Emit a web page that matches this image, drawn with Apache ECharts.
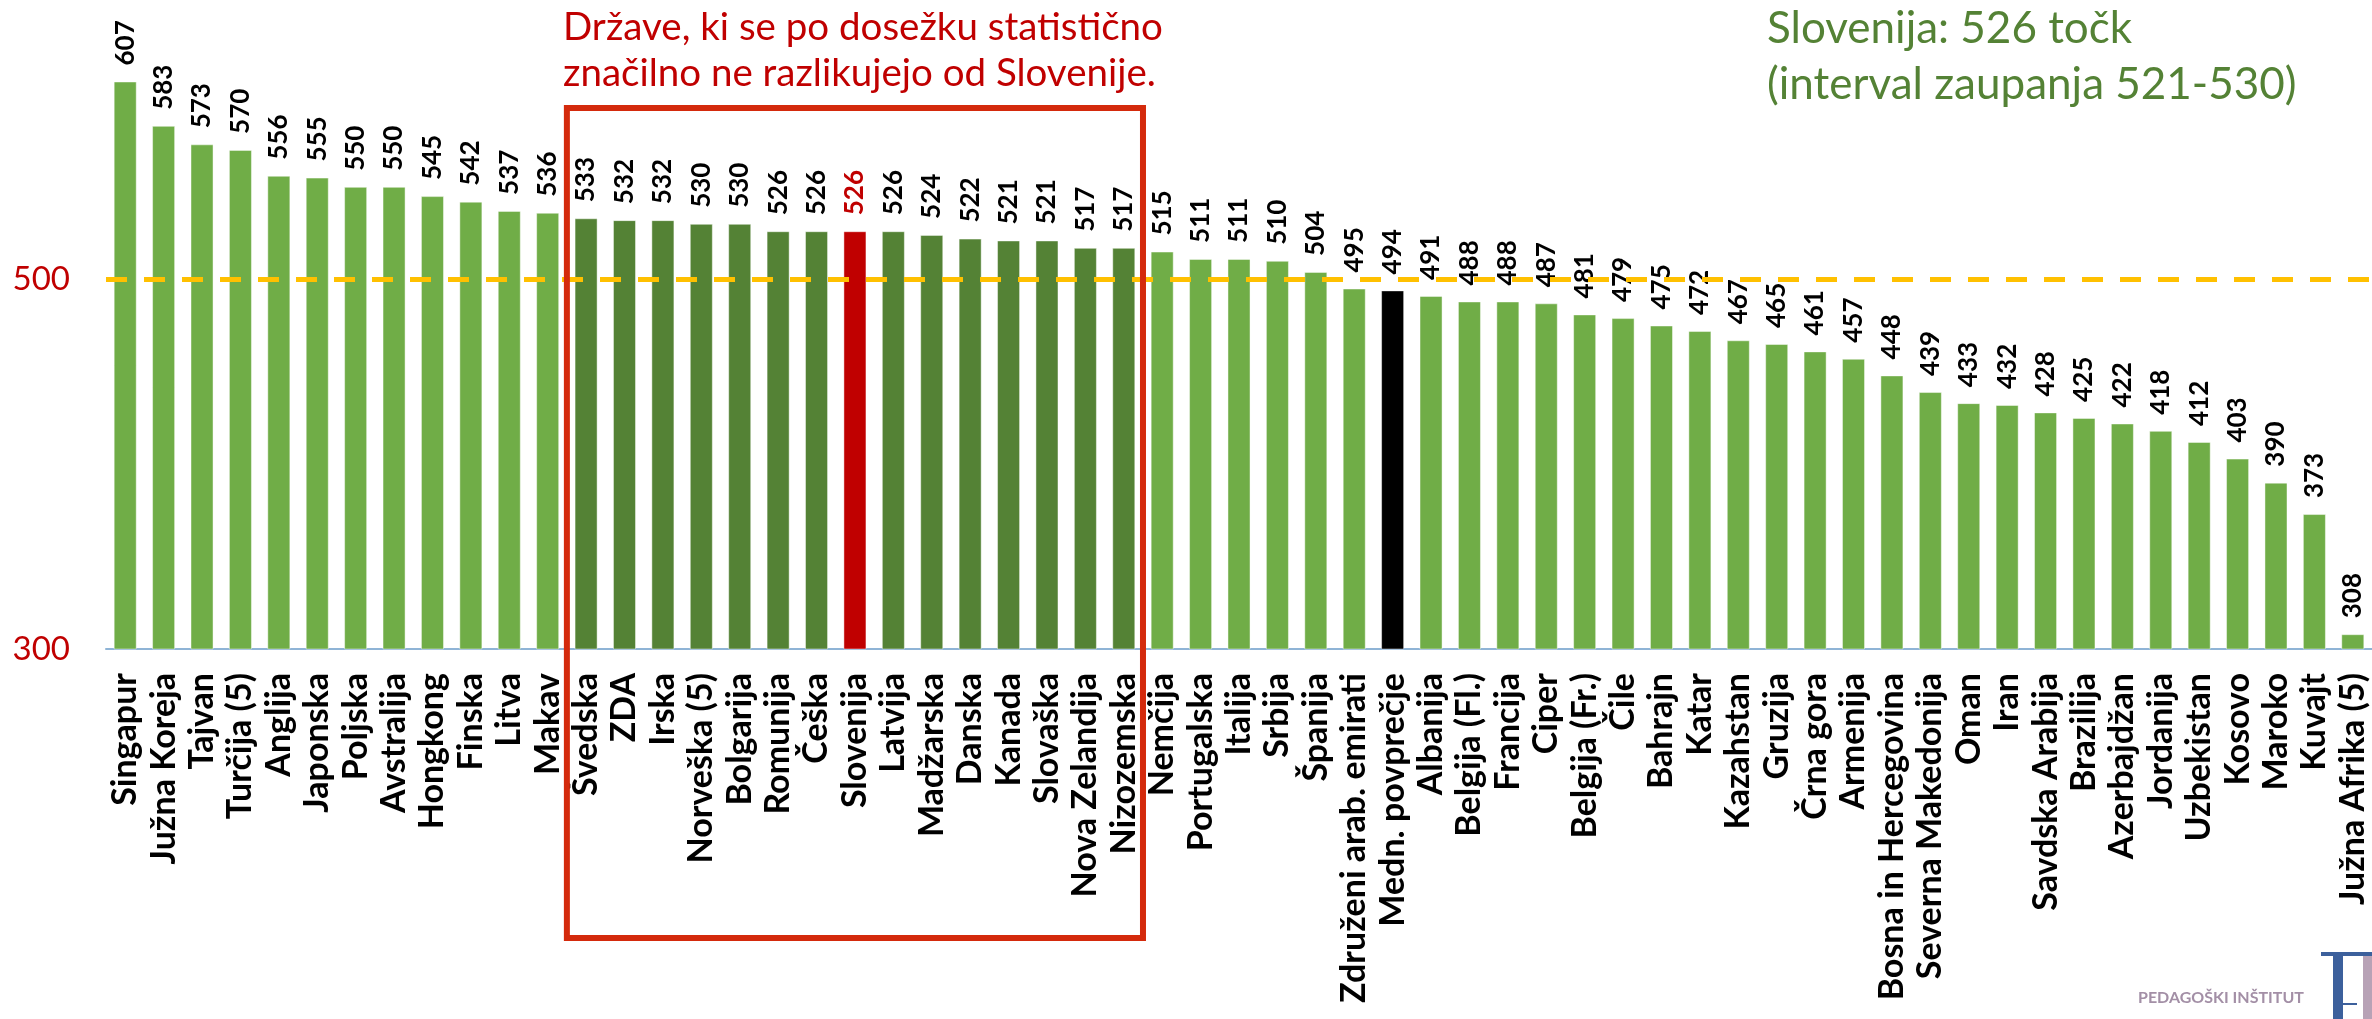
<!DOCTYPE html>
<html>
<head>
<meta charset="utf-8">
<script src="https://cdn.jsdelivr.net/npm/echarts@6/dist/echarts.min.js"></script>
<style>
  html, body { margin: 0; padding: 0; background: #fff; }
  #chart { width: 2372px; height: 1019px; }
</style>
</head>
<body>
<div id="chart"></div>
<script>
// Dosežki držav (točke) - padajoče
const categories = [
  'Singapur', 'Južna Koreja', 'Tajvan', 'Turčija (5)', 'Anglija', 'Japonska', 'Poljska',
  'Avstralija', 'Hongkong', 'Finska', 'Litva', 'Makav', 'Švedska', 'ZDA', 'Irska',
  'Norveška (5)', 'Bolgarija', 'Romunija', 'Češka', 'Slovenija', 'Latvija', 'Madžarska',
  'Danska', 'Kanada', 'Slovaška', 'Nova Zelandija', 'Nizozemska', 'Nemčija', 'Portugalska',
  'Italija', 'Srbija', 'Španija', 'Združeni arab. emirati', 'Medn. povprečje', 'Albanija',
  'Belgija (Fl.)', 'Francija', 'Ciper', 'Belgija (Fr.)', 'Čile', 'Bahrajn', 'Katar',
  'Kazahstan', 'Gruzija', 'Črna gora', 'Armenija', 'Bosna in Hercegovina',
  'Severna Makedonija', 'Oman', 'Iran', 'Savdska Arabija', 'Brazilija', 'Azerbajdžan',
  'Jordanija', 'Uzbekistan', 'Kosovo', 'Maroko', 'Kuvajt', 'Južna Afrika (5)'
];
const scores = [
  607, 583, 573, 570, 556, 555, 550, 550, 545, 542, 537, 536, 533, 532, 532,
  530, 530, 526, 526, 526, 526, 524, 522, 521, 521, 517, 517, 515, 511,
  511, 510, 504, 495, 494, 491, 488, 488, 487, 481, 479, 475, 472,
  467, 465, 461, 457, 448, 439, 433, 432, 428, 425, 422,
  418, 412, 403, 390, 373, 308
];
const yTicks = [300, 500];
const referenceLine = 500;
const highlightCountry = 'Slovenija';
const averageLabel = 'Medn. povprečje';
const similarFirst = 'Švedska';
const similarLast = 'Nizozemska';

const FONT = 'Lato';
const iFirst = categories.indexOf(similarFirst);
const iLast = categories.indexOf(similarLast);

function barColor(i) {
  if (categories[i] === highlightCountry) return '#C00000';
  if (categories[i] === averageLabel) return '#000000';
  if (i >= iFirst && i <= iLast) return '#548235';
  return '#70AD47';
}

const barData = scores.map((v, i) => ({
  value: v,
  itemStyle: { color: barColor(i) },
  label: categories[i] === highlightCountry ? { color: '#C00000' } : undefined
}));

const chart = echarts.init(document.getElementById('chart'));
chart.setOption({
  animation: false,
  grid: { left: 106, right: -2, top: 2, bottom: 370 },
  xAxis: {
    type: 'category',
    data: categories,
    axisLine: { lineStyle: { color: '#8FB4D6', width: 2 } },
    axisTick: { inside: true, length: 10, lineStyle: { color: '#8FB4D6', width: 2 } },
    axisLabel: {
      interval: 0, rotate: 90, margin: 24,
      fontFamily: FONT, fontWeight: 'bold', fontSize: 34, color: '#000'
    }
  },
  yAxis: {
    type: 'value',
    min: 300, max: 650, interval: 200,
    axisLine: { show: false },
    axisTick: { show: false },
    splitLine: { show: false },
    axisLabel: {
      margin: 36, fontFamily: FONT, fontSize: 33, color: '#C00000',
      formatter: v => (yTicks.includes(v) ? String(v) : '')
    }
  },
  series: [
    {
      type: 'line',
      z: 1,
      data: [],
      markLine: {
        silent: true,
        symbol: 'none',
        label: { show: false },
        lineStyle: { color: '#FFC000', width: 5, type: [21, 17] },
        data: [{ yAxis: referenceLine }]
      }
    },
    {
      type: 'bar',
      z: 2,
      barWidth: '60%',
      data: barData,
      itemStyle: { borderColor: 'rgba(255,255,255,0.45)', borderWidth: 1 },
      label: {
        show: true,
        position: 'top',
        rotate: 90,
        align: 'left',
        verticalAlign: 'middle',
        distance: 16,
        fontFamily: FONT,
        fontWeight: 'bold',
        fontSize: 26,
        color: '#000'
      }
    }
  ]
});

// okvir okoli držav, ki se statistično ne razlikujejo od Slovenije
const c0 = chart.convertToPixel({ xAxisIndex: 0 }, categories[iFirst]);
const c1 = chart.convertToPixel({ xAxisIndex: 0 }, categories[iFirst + 1]);
const cN = chart.convertToPixel({ xAxisIndex: 0 }, categories[iLast]);
const band = c1 - c0;
const boxLeft = c0 - band / 2;
const boxRight = cN + band / 2;

chart.setOption({
  graphic: [
    {
      type: 'rect',
      shape: { x: boxLeft, y: 108, width: boxRight - boxLeft, height: 830 },
      style: { fill: 'none', stroke: '#D42A0C', lineWidth: 6 },
      z: 10
    },
    {
      type: 'text',
      left: 563, top: 5,
      style: {
        text: 'Države, ki se po dosežku statistično\nznačilno ne razlikujejo od Slovenije.',
        font: '38.5px Lato', fill: '#C00000', lineHeight: 46
      }
    },
    {
      type: 'text',
      left: 1767, top: 1,
      style: {
        text: 'Slovenija: 526 točk\n(interval zaupanja 521-530)',
        font: '44px Lato', fill: '#548235', lineHeight: 56
      }
    },
    {
      type: 'text',
      left: 2138, top: 990,
      style: { text: 'PEDAGOŠKI INŠTITUT', font: 'bold 16px Lato', fill: '#A38FA6' }
    },
    { type: 'rect', shape: { x: 2321, y: 952, width: 51, height: 4 }, style: { fill: '#3C609C' } },
    { type: 'rect', shape: { x: 2333, y: 952, width: 10, height: 67 }, style: { fill: '#3C609C' } },
    { type: 'rect', shape: { x: 2363, y: 956, width: 9, height: 63 }, style: { fill: '#B8A2B6' } },
    { type: 'rect', shape: { x: 2343, y: 1003, width: 14, height: 2 }, style: { fill: '#3C609C' } }
  ]
});
</script>
</body>
</html>
